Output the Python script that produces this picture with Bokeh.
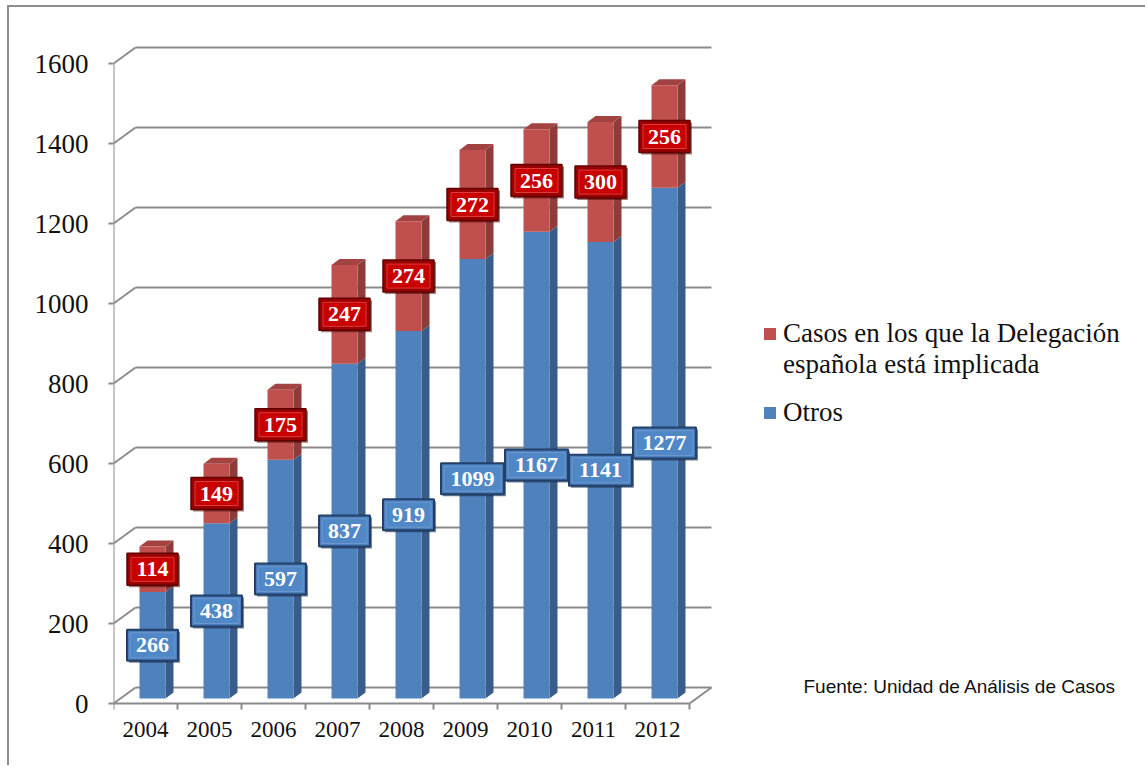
from bokeh.plotting import figure
from bokeh.models import Range1d, FixedTicker, Legend, LegendItem, Label
from bokeh.core.properties import value
from bokeh.embed import file_html
from bokeh.resources import INLINE

# ---------------- data ----------------
years = ["2004", "2005", "2006", "2007", "2008", "2009", "2010", "2011", "2012"]
otros = [266, 438, 597, 837, 919, 1099, 1167, 1141, 1277]
casos = [114, 149, 175, 247, 274, 272, 256, 300, 256]
y_ticks = [0, 200, 400, 600, 800, 1000, 1200, 1400, 1600]
legend_casos_1 = "Casos en los que la Delegación"
legend_casos_2 = "española está implicada"
legend_otros = "Otros"
source_note = "Fuente: Unidad de Análisis de Casos"

# ---------------- layout ----------------
PAGE_W, PAGE_H = 1147, 767
BORDER_X, BORDER_Y, BORDER_W = 7, 5, 2
OX, OY = BORDER_X + BORDER_W, BORDER_Y + BORDER_W      # canvas origin on the page
W, H = PAGE_W - OX, PAGE_H - OY
LEFT, RIGHT, TOP, BOTTOM = 113 - OX, 7, 25 - OY, 52
PX_PER_CAT = 64.0
PX_PER_UNIT = 0.4
fw = W - LEFT - RIGHT
fh = H - TOP - BOTTOM


def dx(px):
    return px / PX_PER_CAT


def dy(px):
    return px / PX_PER_UNIT


y_start = -dy(12)
y_end = y_start + dy(fh)

WALL_DX, WALL_DY = dx(22), dy(16)
BAR_OFF_X, BAR_OFF_Y = dx(7), dy(5)
BAR_W = dx(26)
DEPTH_DX, DEPTH_DY = dx(8), dy(6)

GRID = "#8a8a8a"
BLUE, BLUE_SIDE = "#4F81BD", "#385D8A"
RED, RED_SIDE, RED_TOP = "#C0504D", "#8E3B39", "#A34341"

p = figure(width=W, height=H, output_backend="svg", toolbar_location=None,
           x_range=Range1d(0, dx(fw)), y_range=Range1d(y_start, y_end),
           min_border_left=LEFT, min_border_right=RIGHT,
           min_border_top=TOP, min_border_bottom=BOTTOM,
           margin=(BORDER_Y, 0, 0, BORDER_X),
           styles={"border-left": f"{BORDER_W}px solid #8c8c8c",
                   "border-top": f"{BORDER_W}px solid #8c8c8c"})
p.outline_line_color = None
p.grid.visible = False
p.background_fill_color = "white"
p.border_fill_color = "white"

# axes
ya = p.yaxis[0]
ya.ticker = FixedTicker(ticks=y_ticks)
ya.axis_line_color = None
ya.major_tick_out = 5
ya.major_tick_in = 0
ya.major_tick_line_color = GRID
ya.major_tick_line_width = 2
ya.minor_tick_line_color = None
ya.major_label_standoff = 20
ya.major_label_text_font = "Liberation Serif"
ya.major_label_text_font_size = "27px"
ya.major_label_text_color = "#111111"

n = len(years)
centers = [i + 0.5 for i in range(n)]
xa = p.xaxis[0]
xa.ticker = FixedTicker(ticks=centers)
xa.major_label_overrides = {c: y for c, y in zip(centers, years)}
xa.axis_line_color = None
xa.major_tick_line_color = None
xa.minor_tick_line_color = None
xa.major_label_standoff = 0
xa.major_label_text_font = "Liberation Serif"
xa.major_label_text_font_size = "23px"
xa.major_label_text_color = "#111111"

# ---------------- walls / gridlines ----------------
gx0, gy0, gx1, gy1 = [], [], [], []
for v in y_ticks:
    gx0.append(0); gy0.append(v); gx1.append(WALL_DX); gy1.append(v + WALL_DY)
    gx0.append(WALL_DX); gy0.append(v + WALL_DY); gx1.append(n + WALL_DX); gy1.append(v + WALL_DY)
gx0 += [0, n]; gy0 += [0, 0]; gx1 += [n, n + WALL_DX]; gy1 += [0, WALL_DY]
gx0.append(0); gy0.append(0); gx1.append(0); gy1.append(y_ticks[-1])
for i in range(n + 1):
    gx0.append(i); gy0.append(0); gx1.append(i); gy1.append(-dy(6))
p.segment(gx0, gy0, gx1, gy1, line_color=GRID, line_width=2)

# ---------------- bars ----------------
lefts = [c + BAR_OFF_X - BAR_W / 2 for c in centers]
rights = [l + BAR_W for l in lefts]
b_bot = [BAR_OFF_Y] * n
b_top = [BAR_OFF_Y + o for o in otros]
r_top = [bt + c for bt, c in zip(b_top, casos)]


def side(r, bot, top):
    return ([r, r + DEPTH_DX, r + DEPTH_DX, r],
            [bot, bot + DEPTH_DY, top + DEPTH_DY, top])


bs = [side(r, b, t) for r, b, t in zip(rights, b_bot, b_top)]
rs = [side(r, b, t) for r, b, t in zip(rights, b_top, r_top)]
p.patches([s[0] for s in bs], [s[1] for s in bs], fill_color=BLUE_SIDE, line_color=None)
p.patches([s[0] for s in rs], [s[1] for s in rs], fill_color=RED_SIDE, line_color=None)
tops_x = [[l, l + DEPTH_DX, r + DEPTH_DX, r] for l, r in zip(lefts, rights)]
tops_y = [[t, t + DEPTH_DY, t + DEPTH_DY, t] for t in r_top]
p.patches(tops_x, tops_y, fill_color=RED_TOP, line_color=None)

blue_r = p.quad(left=lefts, right=rights, bottom=b_bot, top=b_top, fill_color=BLUE, line_color=None)
red_r = p.quad(left=lefts, right=rights, bottom=b_top, top=r_top, fill_color=RED, line_color=None)
blank_r = p.quad(left=[], right=[], bottom=[], top=[], fill_alpha=0, line_alpha=0)

# ---------------- data labels ----------------
lx = [c + BAR_OFF_X for c in centers]
by = [BAR_OFF_Y + o / 2 for o in otros]
ry = [bt + c / 2 for bt, c in zip(b_top, casos)]
bw = [51 if len(str(o)) <= 3 else 63 for o in otros]
rw = [51 if len(str(c)) <= 3 else 63 for c in casos]

p.rect(x=[x + dx(2) for x in lx], y=[y - dy(2) for y in by], width=bw, height=31,
       width_units="screen", height_units="screen", fill_color="#1c2f4a", fill_alpha=0.6, line_color=None)
p.rect(x=lx, y=by, width=bw, height=31, width_units="screen", height_units="screen",
       fill_color="#4A7DBA", line_color="#22406a", line_width=2)
p.rect(x=lx, y=by, width=[w - 6 for w in bw], height=25, width_units="screen", height_units="screen",
       fill_color="#5087C6", line_color="#6f9bd1", line_width=1)
p.text(x=lx, y=by, text=[str(o) for o in otros], text_align="center", text_baseline="middle",
       text_font=value("Liberation Serif"), text_font_style="bold", text_font_size="22px", text_color="white")

p.rect(x=[x + dx(2) for x in lx], y=[y - dy(2) for y in ry], width=rw, height=32,
       width_units="screen", height_units="screen", fill_color="#3a0000", fill_alpha=0.5, line_color=None)
p.rect(x=lx, y=ry, width=rw, height=32, width_units="screen", height_units="screen",
       fill_color="#9a0000", line_color="#600000", line_width=1.5)
p.rect(x=lx, y=ry, width=[w - 8 for w in rw], height=24, width_units="screen", height_units="screen",
       fill_color="#C80000", line_color="#E03a3a", line_width=1)
p.text(x=lx, y=ry, text=[str(c) for c in casos], text_align="center", text_baseline="middle",
       text_font=value("Liberation Serif"), text_font_style="bold", text_font_size="22px", text_color="white")

# ---------------- legends ----------------
common = dict(orientation="vertical", border_line_color=None, background_fill_alpha=0,
              padding=0, margin=0, spacing=0, glyph_width=15, glyph_height=15, label_standoff=6,
              label_text_font="Liberation Serif", label_text_font_size="27px",
              label_text_color="#111111")
leg1 = Legend(items=[LegendItem(label=legend_casos_1, renderers=[red_r]),
                     LegendItem(label=legend_casos_2, renderers=[blank_r])],
              location=(762 - 113, 715 - 380), **common)
leg2 = Legend(items=[LegendItem(label=legend_otros, renderers=[blue_r])],
              location=(762 - 113, 715 - 428), **common)
p.add_layout(leg1, "center")
p.add_layout(leg2, "center")

# source note
p.add_layout(Label(x=dx(803 - 113), y=dy(703 - 686), text=source_note,
                   text_font="Liberation Sans", text_font_size="19px", text_color="#111111",
                   text_baseline="middle", text_align="left"))

open("out.html", "w").write(file_html(p, INLINE))
